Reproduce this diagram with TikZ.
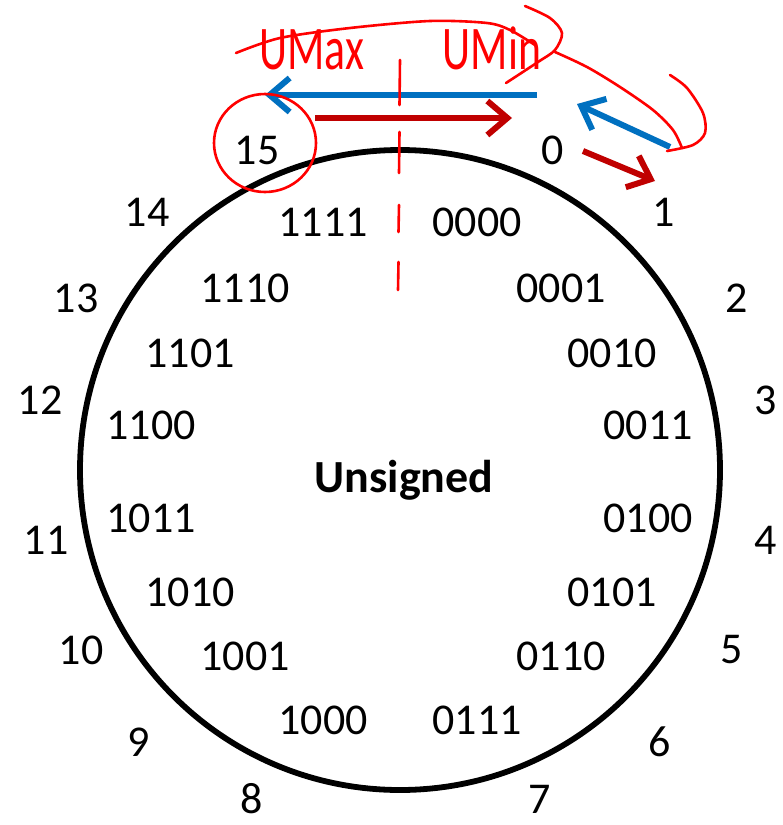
\documentclass[tikz,border=0pt]{standalone}
\usepackage{fontspec}
\setmainfont{Carlito}
\usetikzlibrary{arrows.meta}
\definecolor{ublue}{RGB}{0,112,192}
\definecolor{dred}{RGB}{192,0,0}
\definecolor{pen}{RGB}{255,0,0}
\begin{document}
\begin{tikzpicture}[x=1pt,y=-1pt,
  num/.style={font=\fontsize{44}{44}\selectfont, inner sep=0pt, anchor=center},
  bits/.style={font=\fontsize{44}{44}\selectfont, inner sep=0pt, anchor=center},
  hand/.style={color=pen, font=\fontsize{46}{46}\selectfont, inner sep=0pt, anchor=center},
  penline/.style={draw=pen, line width=2.6pt, line cap=round, line join=round},
  bluearrow/.style={draw=ublue, line width=6pt, -{Straight Barb[length=20pt,width=34pt]}},
  redarrow/.style={draw=dred, line width=6pt, -{Straight Barb[length=20pt,width=34pt]}}]
\useasboundingbox (0,0) rectangle (783,825);
\fill[white] (0,0) rectangle (783,825);
% wheel
\draw[line width=5.8pt] (400,470) circle[radius=320pt];
% outer numbers
\node[num] (n15) at (257,150) {15};
\node[num] (n0) at (553,150) {0};
\node[num] (n1) at (664,212) {1};
\node[num] (n2) at (737,298) {2};
\node[num] (n3) at (766,400) {3};
\node[num] (n4) at (766,540) {4};
\node[num] (n5) at (732,650) {5};
\node[num] (n6) at (660,742) {6};
\node[num] (n7) at (540,799) {7};
\node[num] (n8) at (252,799) {8};
\node[num] (n9) at (139,742) {9};
\node[num] (n10) at (81,650) {10};
\node[num] (n11) at (46,540) {11};
\node[num] (n12) at (40,400) {12};
\node[num] (n13) at (76,298) {13};
\node[num] (n14) at (147,212) {14};
% bit patterns
\node[bits] (b15) at (323,222) {1111};
\node[bits] (b0) at (477,222) {0000};
\node[bits] (b1) at (561,288) {0001};
\node[bits] (b14) at (245,288) {1110};
\node[bits] (b13) at (190,353) {1101};
\node[bits] (b2) at (612,353) {0010};
\node[bits] (b12) at (151,425) {1100};
\node[bits] (b3) at (648,425) {0011};
\node[bits] (b11) at (151,518) {1011};
\node[bits] (b4) at (648,518) {0100};
\node[bits] (b10) at (190,592) {1010};
\node[bits] (b5) at (612,592) {0101};
\node[bits] (b9) at (245,656) {1001};
\node[bits] (b6) at (561,656) {0110};
\node[bits] (b8) at (323,720) {1000};
\node[bits] (b7) at (477,720) {0111};
\node[font=\fontsize{46}{46}\selectfont\bfseries, inner sep=0pt, anchor=base] (title) at (404,492) {Unsigned};
% arrows
\coordinate (bs) at (537,95);
\coordinate (be) at (265,95);
\coordinate (rs) at (315,118);
\coordinate (re) at (512,118);
\coordinate (bs2) at (670,147);
\coordinate (be2) at (577,104);
\coordinate (rs2) at (583,151);
\coordinate (re2) at (655,181);
\draw[bluearrow] (bs) -- (be);
\draw[redarrow] (rs) -- (re);
\draw[bluearrow] (bs2) -- (be2);
\draw[redarrow] (rs2) -- (re2);
% handwritten annotations
\node[hand] (umax) at (312,50) {\scalebox{0.95}[1.35]{UMax}};
\node[hand] (umin) at (492,48) {\scalebox{0.95}[1.35]{UMin}};
\draw[penline] (400,60) -- (399.5,105);
\draw[penline] (399.5,132) -- (399,173);
\draw[penline] (399,205) -- (398.5,232);
\draw[penline] (398.5,262) -- (398,290);
\draw[penline] (265,143) ellipse[x radius=51pt, y radius=49pt];
\draw[penline] plot[smooth] coordinates {(236,53) (280,38) (350,28) (430,21) (487,23) (510,30) (535,45)};
\draw[penline] plot[smooth] coordinates {(525,6) (550,18) (562,33) (555,50) (538,62) (506,83)};
\draw[penline] plot[smooth] coordinates {(555,52) (587,67) (620,87) (653,110) (673,130) (682,148)};
\draw[penline] plot[smooth] coordinates {(667,151) (693,145) (705,133) (703,113) (687,88) (670,75)};
\end{tikzpicture}
\end{document}
